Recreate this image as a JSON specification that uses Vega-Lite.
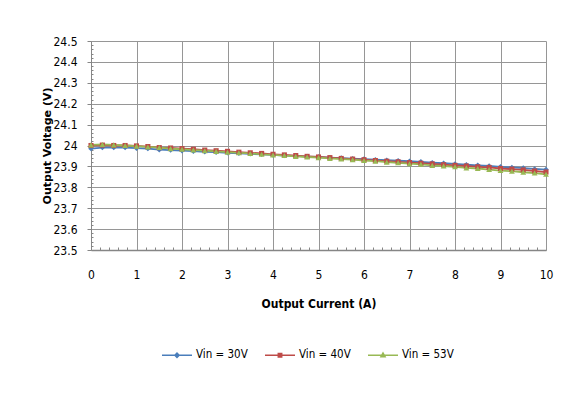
{
  "$schema": "https://vega.github.io/schema/vega-lite/v6.json",
  "width": 455,
  "height": 209,
  "autosize": {"type": "none"},
  "padding": {"left": 91, "top": 41, "right": 40, "bottom": 169},
  "background": "white",
  "datasets": {
    "d": [
      {"I":0,"V":23.985,"s":"Vin = 30V"},{"I":0.25,"V":23.99,"s":"Vin = 30V"},{"I":0.5,"V":23.99,"s":"Vin = 30V"},{"I":0.75,"V":23.99,"s":"Vin = 30V"},{"I":1,"V":23.987,"s":"Vin = 30V"},{"I":1.25,"V":23.985,"s":"Vin = 30V"},{"I":1.5,"V":23.98,"s":"Vin = 30V"},{"I":1.75,"V":23.978,"s":"Vin = 30V"},{"I":2,"V":23.975,"s":"Vin = 30V"},{"I":2.25,"V":23.973,"s":"Vin = 30V"},{"I":2.5,"V":23.97,"s":"Vin = 30V"},{"I":2.75,"V":23.968,"s":"Vin = 30V"},{"I":3,"V":23.965,"s":"Vin = 30V"},{"I":3.25,"V":23.963,"s":"Vin = 30V"},{"I":3.5,"V":23.96,"s":"Vin = 30V"},{"I":3.75,"V":23.958,"s":"Vin = 30V"},{"I":4,"V":23.955,"s":"Vin = 30V"},{"I":4.25,"V":23.952,"s":"Vin = 30V"},{"I":4.5,"V":23.95,"s":"Vin = 30V"},{"I":4.75,"V":23.947,"s":"Vin = 30V"},{"I":5,"V":23.945,"s":"Vin = 30V"},{"I":5.25,"V":23.942,"s":"Vin = 30V"},{"I":5.5,"V":23.94,"s":"Vin = 30V"},{"I":5.75,"V":23.937,"s":"Vin = 30V"},{"I":6,"V":23.935,"s":"Vin = 30V"},{"I":6.25,"V":23.932,"s":"Vin = 30V"},{"I":6.5,"V":23.93,"s":"Vin = 30V"},{"I":6.75,"V":23.927,"s":"Vin = 30V"},{"I":7,"V":23.925,"s":"Vin = 30V"},{"I":7.25,"V":23.922,"s":"Vin = 30V"},{"I":7.5,"V":23.918,"s":"Vin = 30V"},{"I":7.75,"V":23.915,"s":"Vin = 30V"},{"I":8,"V":23.912,"s":"Vin = 30V"},{"I":8.25,"V":23.908,"s":"Vin = 30V"},{"I":8.5,"V":23.905,"s":"Vin = 30V"},{"I":8.75,"V":23.902,"s":"Vin = 30V"},{"I":9,"V":23.898,"s":"Vin = 30V"},{"I":9.25,"V":23.895,"s":"Vin = 30V"},{"I":9.5,"V":23.892,"s":"Vin = 30V"},{"I":9.75,"V":23.888,"s":"Vin = 30V"},{"I":10,"V":23.885,"s":"Vin = 30V"},
      {"I":0,"V":24.0,"s":"Vin = 40V"},{"I":0.25,"V":24.002,"s":"Vin = 40V"},{"I":0.5,"V":24.0,"s":"Vin = 40V"},{"I":0.75,"V":24.0,"s":"Vin = 40V"},{"I":1,"V":23.998,"s":"Vin = 40V"},{"I":1.25,"V":23.995,"s":"Vin = 40V"},{"I":1.5,"V":23.99,"s":"Vin = 40V"},{"I":1.75,"V":23.988,"s":"Vin = 40V"},{"I":2,"V":23.985,"s":"Vin = 40V"},{"I":2.25,"V":23.982,"s":"Vin = 40V"},{"I":2.5,"V":23.978,"s":"Vin = 40V"},{"I":2.75,"V":23.975,"s":"Vin = 40V"},{"I":3,"V":23.972,"s":"Vin = 40V"},{"I":3.25,"V":23.968,"s":"Vin = 40V"},{"I":3.5,"V":23.965,"s":"Vin = 40V"},{"I":3.75,"V":23.962,"s":"Vin = 40V"},{"I":4,"V":23.958,"s":"Vin = 40V"},{"I":4.25,"V":23.955,"s":"Vin = 40V"},{"I":4.5,"V":23.952,"s":"Vin = 40V"},{"I":4.75,"V":23.948,"s":"Vin = 40V"},{"I":5,"V":23.945,"s":"Vin = 40V"},{"I":5.25,"V":23.942,"s":"Vin = 40V"},{"I":5.5,"V":23.938,"s":"Vin = 40V"},{"I":5.75,"V":23.935,"s":"Vin = 40V"},{"I":6,"V":23.932,"s":"Vin = 40V"},{"I":6.25,"V":23.928,"s":"Vin = 40V"},{"I":6.5,"V":23.925,"s":"Vin = 40V"},{"I":6.75,"V":23.922,"s":"Vin = 40V"},{"I":7,"V":23.918,"s":"Vin = 40V"},{"I":7.25,"V":23.915,"s":"Vin = 40V"},{"I":7.5,"V":23.912,"s":"Vin = 40V"},{"I":7.75,"V":23.908,"s":"Vin = 40V"},{"I":8,"V":23.905,"s":"Vin = 40V"},{"I":8.25,"V":23.902,"s":"Vin = 40V"},{"I":8.5,"V":23.898,"s":"Vin = 40V"},{"I":8.75,"V":23.895,"s":"Vin = 40V"},{"I":9,"V":23.89,"s":"Vin = 40V"},{"I":9.25,"V":23.887,"s":"Vin = 40V"},{"I":9.5,"V":23.883,"s":"Vin = 40V"},{"I":9.75,"V":23.878,"s":"Vin = 40V"},{"I":10,"V":23.873,"s":"Vin = 40V"},
      {"I":0,"V":24.003,"s":"Vin = 53V"},{"I":0.25,"V":24.005,"s":"Vin = 53V"},{"I":0.5,"V":24.003,"s":"Vin = 53V"},{"I":0.75,"V":24.0,"s":"Vin = 53V"},{"I":1,"V":23.997,"s":"Vin = 53V"},{"I":1.25,"V":23.993,"s":"Vin = 53V"},{"I":1.5,"V":23.99,"s":"Vin = 53V"},{"I":1.75,"V":23.985,"s":"Vin = 53V"},{"I":2,"V":23.982,"s":"Vin = 53V"},{"I":2.25,"V":23.978,"s":"Vin = 53V"},{"I":2.5,"V":23.975,"s":"Vin = 53V"},{"I":2.75,"V":23.972,"s":"Vin = 53V"},{"I":3,"V":23.968,"s":"Vin = 53V"},{"I":3.25,"V":23.965,"s":"Vin = 53V"},{"I":3.5,"V":23.962,"s":"Vin = 53V"},{"I":3.75,"V":23.958,"s":"Vin = 53V"},{"I":4,"V":23.955,"s":"Vin = 53V"},{"I":4.25,"V":23.952,"s":"Vin = 53V"},{"I":4.5,"V":23.948,"s":"Vin = 53V"},{"I":4.75,"V":23.945,"s":"Vin = 53V"},{"I":5,"V":23.942,"s":"Vin = 53V"},{"I":5.25,"V":23.938,"s":"Vin = 53V"},{"I":5.5,"V":23.935,"s":"Vin = 53V"},{"I":5.75,"V":23.932,"s":"Vin = 53V"},{"I":6,"V":23.928,"s":"Vin = 53V"},{"I":6.25,"V":23.925,"s":"Vin = 53V"},{"I":6.5,"V":23.92,"s":"Vin = 53V"},{"I":6.75,"V":23.917,"s":"Vin = 53V"},{"I":7,"V":23.913,"s":"Vin = 53V"},{"I":7.25,"V":23.91,"s":"Vin = 53V"},{"I":7.5,"V":23.905,"s":"Vin = 53V"},{"I":7.75,"V":23.902,"s":"Vin = 53V"},{"I":8,"V":23.898,"s":"Vin = 53V"},{"I":8.25,"V":23.893,"s":"Vin = 53V"},{"I":8.5,"V":23.89,"s":"Vin = 53V"},{"I":8.75,"V":23.885,"s":"Vin = 53V"},{"I":9,"V":23.88,"s":"Vin = 53V"},{"I":9.25,"V":23.877,"s":"Vin = 53V"},{"I":9.5,"V":23.872,"s":"Vin = 53V"},{"I":9.75,"V":23.868,"s":"Vin = 53V"},{"I":10,"V":23.862,"s":"Vin = 53V"}
    ]
  },
  "data": {"name": "d"},
  "resolve": {"axis": {"x": "independent", "y": "independent"}},
  "layer": [
    {
      "encoding": {
        "x": {
          "field": "I", "type": "quantitative",
          "scale": {"domain": [0, 10], "nice": false, "zero": false},
          "axis": {
            "orient": "bottom",
            "title": "Output Current (A)",
            "values": [0,1,2,3,4,5,6,7,8,9,10],
            "format": "d",
            "labelFlush": false,
            "grid": true, "gridColor": "#969696", "gridWidth": 1,
            "domainColor": "#868686", "domainWidth": 1.5,
            "tickSize": 0,
            "labelPadding": 19,
            "labelFont": "Liberation Sans Narrow, DejaVu Sans Condensed, sans-serif",
            "labelFontSize": 12, "labelColor": "#000",
            "titleFont": "Liberation Sans Narrow, DejaVu Sans Condensed, sans-serif",
            "titleFontSize": 12, "titleFontWeight": "bold", "titleColor": "#000",
            "titlePadding": 18
          }
        },
        "y": {
          "field": "V", "type": "quantitative",
          "scale": {"domain": [23.5, 24.5], "nice": false, "zero": false},
          "axis": {
            "orient": "left",
            "title": "Output Voltage (V)",
            "values": [23.5,23.6,23.7,23.8,23.9,24,24.1,24.2,24.3,24.4,24.5],
            "format": ".3~g",
            "labelFlush": false,
            "grid": true, "gridColor": "#969696", "gridWidth": 1,
            "domainColor": "#868686", "domainWidth": 1,
            "tickColor": "#868686", "tickSize": 4,
            "labelPadding": 10,
            "labelFont": "Liberation Sans Narrow, DejaVu Sans Condensed, sans-serif",
            "labelFontSize": 12, "labelColor": "#000",
            "titleFont": "DejaVu Sans, Verdana, sans-serif",
            "titleFontSize": 11, "titleFontWeight": "bold", "titleColor": "#000",
            "titlePadding": 0
          }
        }
      },
      "layer": [
        {
          "mark": {"type": "line", "strokeWidth": 1.8},
          "encoding": {
            "color": {
              "field": "s", "type": "nominal",
              "scale": {"domain": ["Vin = 30V", "Vin = 40V", "Vin = 53V"], "range": ["#4a7ebb", "#be4b48", "#98b954"]},
              "legend": {
                "orient": "none",
                "legendX": 70,
                "legendY": 298,
                "direction": "horizontal",
                "title": null,
                "symbolSize": 900,
                "symbolStrokeWidth": 1.5,
                "labelFont": "Liberation Sans Narrow, DejaVu Sans Condensed, sans-serif",
                "labelFontSize": 11.5, "labelColor": "#000",
                "labelOffset": 3,
                "columnPadding": 14,
                "encode": {
                  "symbols": {
                    "update": {
                      "shape": {"signal": "datum.value == 'Vin = 30V' ? 'M-1,0H1M0,-0.15L0.15,0L0,0.15L-0.15,0Z' : datum.value == 'Vin = 40V' ? 'M-1,0H1M-0.12,-0.12H0.12V0.12H-0.12Z' : 'M-1,0H1M0,-0.16L0.15,0.11H-0.15Z'"},
                      "fill": {"scale": "color", "field": "value"},
                      "stroke": {"scale": "color", "field": "value"},
                      "strokeWidth": {"value": 1.3},
                      "opacity": {"value": 1}
                    }
                  }
                }
              }
            }
          }
        },
        {
          "transform": [{"filter": "datum.s == 'Vin = 30V'"}],
          "mark": {"type": "point", "filled": true, "opacity": 1, "size": 30, "shape": "diamond", "color": "#4a7ebb"}
        },
        {
          "transform": [{"filter": "datum.s == 'Vin = 40V'"}],
          "mark": {"type": "point", "filled": true, "opacity": 1, "size": 26, "shape": "square", "color": "#be4b48"}
        },
        {
          "transform": [{"filter": "datum.s == 'Vin = 53V'"}],
          "mark": {"type": "point", "filled": true, "opacity": 1, "size": 34, "shape": "triangle-up", "color": "#98b954"}
        }
      ]
    },
    {
      "mark": {"type": "point", "opacity": 0},
      "encoding": {
        "x": {
          "field": "I", "type": "quantitative",
          "axis": {
            "orient": "bottom", "title": null, "labels": false, "grid": false, "domain": false,
            "values": [0.2,0.4,0.6,0.8,1.2,1.4,1.6,1.8,2.2,2.4,2.6,2.8,3.2,3.4,3.6,3.8,4.2,4.4,4.6,4.8,5.2,5.4,5.6,5.8,6.2,6.4,6.6,6.8,7.2,7.4,7.6,7.8,8.2,8.4,8.6,8.8,9.2,9.4,9.6,9.8],
            "tickSize": -3, "tickColor": "#868686", "tickWidth": 1
          }
        },
        "y": {
          "field": "V", "type": "quantitative",
          "axis": {
            "orient": "left", "title": null, "labels": false, "grid": false, "domain": false,
            "values": [23.52,23.54,23.56,23.58,23.62,23.64,23.66,23.68,23.72,23.74,23.76,23.78,23.82,23.84,23.86,23.88,23.92,23.94,23.96,23.98,24.02,24.04,24.06,24.08,24.12,24.14,24.16,24.18,24.22,24.24,24.26,24.28,24.32,24.34,24.36,24.38,24.42,24.44,24.46,24.48],
            "tickSize": -2, "tickColor": "#868686", "tickWidth": 1
          }
        }
      }
    }
  ],
  "config": {
    "view": {"stroke": null}
  }
}
